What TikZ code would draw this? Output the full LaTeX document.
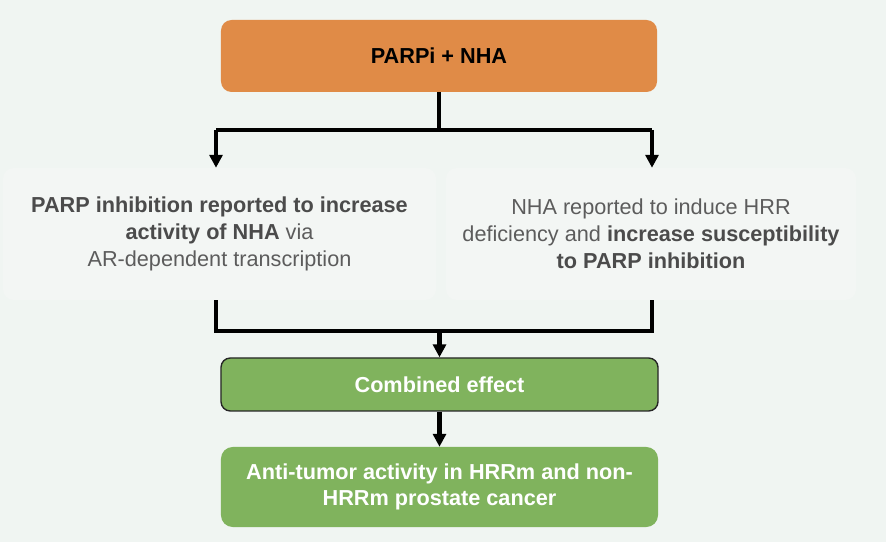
\documentclass[tikz,border=0pt]{standalone}
\usepackage{fontspec}
\setmainfont{Liberation Sans}
\usetikzlibrary{arrows.meta, positioning, calc}
\definecolor{pbg}{HTML}{F0F5F2}
\definecolor{pmid}{HTML}{F3F6F4}
\definecolor{porange}{HTML}{E08B47}
\definecolor{pgreen}{HTML}{80B35D}
\definecolor{pgray}{HTML}{5C5C5C}
\definecolor{pdark}{HTML}{4B4B4B}
\tikzset{
  obox/.style={fill=porange, rounded corners=9pt, minimum width=13.08cm,
               minimum height=2.16cm, inner sep=0pt, text=black,
               font=\fontsize{18.5pt}{23pt}\selectfont\bfseries},
  mbox/.style={fill=pmid, rounded corners=9pt, minimum height=3.96cm,
               inner sep=0pt, text=pgray, align=center,
               font=\fontsize{18.5pt}{23pt}\selectfont},
  cbox/.style={draw=black!85, line width=1.2pt, fill=pgreen, rounded corners=8pt,
               minimum width=13.11cm, minimum height=1.59cm, inner sep=0pt,
               text=white, font=\fontsize{18.5pt}{23pt}\selectfont\bfseries},
  gbox/.style={fill=pgreen, rounded corners=10pt, minimum width=13.11cm,
               minimum height=2.4cm, inner sep=0pt, text=white, align=center,
               font=\fontsize{18.5pt}{22pt}\selectfont\bfseries},
  ln/.style={line width=3.8pt, black},
  arr/.style={line width=3.8pt, black, -{Triangle[width=11pt, length=11pt]}},
}
\newcommand{\hl}[1]{{\bfseries\color{pdark}#1}}
\begin{document}
\begin{tikzpicture}[x=0.03cm, y=-0.03cm]
  \fill[pbg] (0,0) rectangle (886,542);
  \useasboundingbox (0,0) rectangle (886,542);

  \node[obox] (top) at (439,56) {PARPi + NHA};

  \node[mbox, minimum width=12.99cm] (left) at (219.5,234)
    {\hl{PARP inhibition reported to increase}\\
     \hl{activity of NHA} via\\
     AR-dependent transcription};
  \node[mbox, minimum width=12.3cm] (right) at (651,234)
    {NHA reported to induce HRR\\
     deficiency and \hl{increase susceptibility}\\
     \hl{to PARP inhibition}};

  \node[cbox] (comb) at (439.5,384.5) {Combined effect};
  \node[gbox] (final) at (439.5,487)
    {Anti-tumor activity in HRRm and non-\\HRRm prostate cancer};

  % split from the top box
  \coordinate (splitL) at (216,130);
  \coordinate (splitR) at (652,130);
  \draw[ln] (top.south) -- (top.south |- splitL);
  \draw[ln] (splitL) -- (splitR);
  \draw[arr] (splitL) -- (left.north -| splitL);
  \draw[arr] (splitR) -- (right.north -| splitR);

  % join into the combined effect
  \coordinate (joinL) at (216,331);
  \coordinate (joinR) at (652,331);
  \draw[ln] (left.south -| joinL) -- (joinL) -- (joinR) -- (right.south -| joinR);
  \draw[arr] (comb.north |- joinL) -- (comb.north);
  \draw[arr] (comb.south) -- (final.north);
\end{tikzpicture}
\end{document}
